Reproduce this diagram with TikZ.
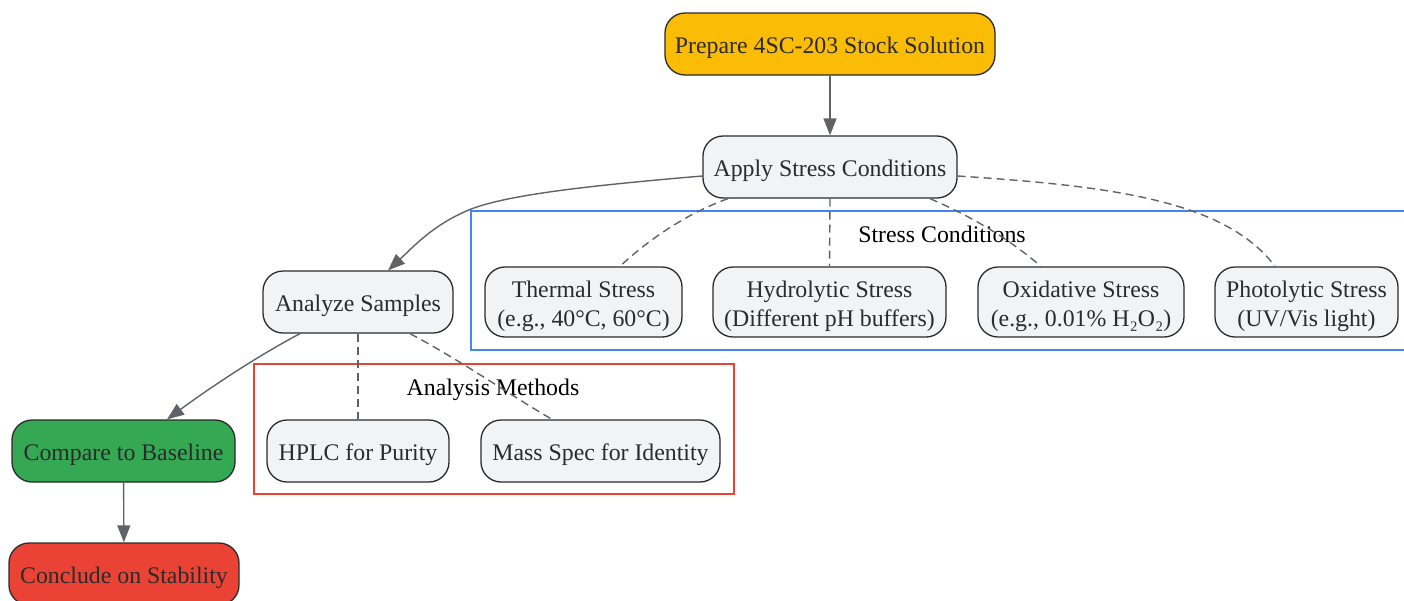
\documentclass[tikz,border=0pt]{standalone}
\usepackage{fontspec}
\setmainfont{Liberation Serif}
\usetikzlibrary{arrows.meta}
\definecolor{edgec}{HTML}{5F6368}
\definecolor{nodefill}{HTML}{F1F3F4}
\definecolor{nodeline}{HTML}{2B2B2B}
\definecolor{amber}{HTML}{FBBC05}
\definecolor{gr}{HTML}{34A853}
\definecolor{rd}{HTML}{EA4335}
\definecolor{bluebox}{HTML}{4285F4}
\definecolor{redbox}{HTML}{EA4335}
\begin{document}
\begin{tikzpicture}[x=1pt,y=-1pt,
  box/.style={draw=nodeline, line width=1.3pt, rounded corners=20pt, fill=nodefill,
    text=nodeline, font=\fontsize{23.8}{29}\selectfont, align=center, inner sep=0pt,
    minimum height=62pt, text height=22pt, text depth=4pt},
  box2/.style={box, minimum height=70pt, text height=52pt, text depth=4pt},
  arr/.style={draw=edgec, line width=1.4pt, -{Triangle[length=17pt,width=13pt]}},
  dsh/.style={draw=edgec, line width=1.4pt, dash pattern=on 8pt off 5pt},
  lbl/.style={font=\fontsize{23.8}{29}\selectfont, text=black, inner sep=0pt,
    text height=22pt, text depth=4pt}]
\useasboundingbox (0,0) rectangle (1404,600);
% clusters
\draw[bluebox, line width=1.3pt] (471,211) rectangle (1430,350);
\draw[redbox, line width=1.3pt] (254,364) rectangle (734,494);
\node[lbl] (sclabel) at (942,233) {Stress Conditions};
\node[lbl] (amlabel) at (493,386) {Analysis Methods};
% nodes
\node[box, fill=amber, minimum width=330pt] (prep) at (830,44) {Prepare 4SC-203 Stock Solution};
\node[box, minimum width=254pt] (apply) at (830,167) {Apply Stress Conditions};
\node[box, minimum width=190pt] (analyze) at (358,302) {Analyze Samples};
\node[box2, minimum width=197pt] (thermal) at (583.5,302) {Thermal Stress\\(e.g., 40°C, 60°C)};
\node[box2, minimum width=233pt] (hydro) at (829.5,302) {Hydrolytic Stress\\(Different pH buffers)};
\node[box2, minimum width=206pt] (oxid) at (1081,302) {Oxidative Stress\\(e.g., 0.01\% H₂O₂)};
\node[box2, minimum width=183pt] (photo) at (1306.5,302) {Photolytic Stress\\(UV/Vis light)};
\node[box, fill=gr, minimum width=223pt] (compare) at (123.5,451) {Compare to Baseline};
\node[box, fill=rd, minimum width=230pt] (conclude) at (124,574) {Conclude on Stability};
\node[box, minimum width=182pt] (hplc) at (358,451) {HPLC for Purity};
\node[box, minimum width=239pt] (mass) at (600.5,451) {Mass Spec for Identity};
% edges
\draw[arr] (prep) -- (apply);
\draw[arr] ([yshift=-9pt]apply.west) .. controls (560,188) and (490,198) .. (460,214)
  .. controls (430,228) and (410,250) .. ([xshift=30pt]analyze.north);
\draw[dsh] ([xshift=-102pt]apply.south) .. controls (690,212) and (650,238) .. ([xshift=36.5pt]thermal.north);
\draw[dsh] (apply.south) -- (hydro.north);
\draw[dsh] ([xshift=100pt]apply.south) .. controls (975,218) and (1010,240) .. ([xshift=-40pt]oxid.north);
\draw[dsh] ([yshift=-9pt]apply.east) .. controls (1110,186) and (1225,200) .. ([xshift=-31.5pt]photo.north);
\draw[arr] ([xshift=-58pt]analyze.south) .. controls (250,360) and (200,395) .. ([xshift=43.5pt]compare.north);
\draw[dsh] (analyze.south) -- (hplc.north);
\draw[dsh] ([xshift=52pt]analyze.south) .. controls (460,360) and (510,395) .. ([xshift=-48.5pt]mass.north);
\draw[arr] (compare) -- (conclude);
\end{tikzpicture}
\end{document}
